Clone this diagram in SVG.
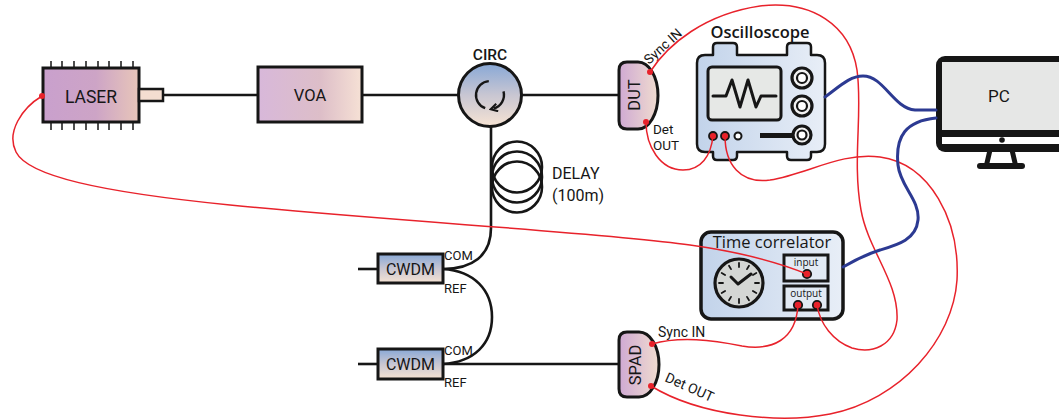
<svg xmlns="http://www.w3.org/2000/svg" width="1059" height="419" viewBox="0 0 1059 419">
  <defs>
    <linearGradient id="gPurple" x1="0" y1="0" x2="1" y2="0">
      <stop offset="0" stop-color="#c9a0cd"/>
      <stop offset="0.55" stop-color="#cda4c6"/>
      <stop offset="1" stop-color="#e8c6b9"/>
    </linearGradient>
    <linearGradient id="gPurpleLight" x1="0" y1="0" x2="1" y2="0">
      <stop offset="0" stop-color="#d8b8da"/>
      <stop offset="0.6" stop-color="#ddbec8"/>
      <stop offset="1" stop-color="#f6e1d5"/>
    </linearGradient>
    <linearGradient id="gDetector" x1="0" y1="0" x2="1" y2="0">
      <stop offset="0" stop-color="#cfa9d3"/>
      <stop offset="1" stop-color="#f0dccf"/>
    </linearGradient>
    <linearGradient id="gBluePeach" x1="0" y1="0" x2="0" y2="1">
      <stop offset="0" stop-color="#88a8d6"/>
      <stop offset="0.5" stop-color="#c8c6d2"/>
      <stop offset="1" stop-color="#f6e3d3"/>
    </linearGradient>
    <linearGradient id="gInstrument" x1="0" y1="0" x2="1" y2="0">
      <stop offset="0" stop-color="#c2d3ea"/>
      <stop offset="1" stop-color="#e8eef7"/>
    </linearGradient>
    <marker id="circArrow" viewBox="0 0 10 10" refX="5" refY="5" markerWidth="4" markerHeight="4" orient="auto">
      <path d="M1,1 L8,5 L1,9" fill="none" stroke="#161616" stroke-width="2.2" stroke-linejoin="miter"/>
    </marker>
    <style>
      .edge { stroke: #161616; stroke-width: 3; }
      .fiber { fill: none; stroke: #161616; stroke-width: 2.6; }
      .cable { fill: none; stroke: #e8222b; stroke-width: 1.5; }
      .usb { fill: none; stroke: #2c3a92; stroke-width: 3; stroke-linecap: round; }
      .pin { stroke: #161616; stroke-width: 1.5; }
      .jack { fill: #e8222b; stroke: #161616; stroke-width: 1.8; }
      .lbl { font-family: Roboto, "DejaVu Sans", sans-serif; fill: #161616; }
      .ui { font-family: "Open Sans", "DejaVu Sans", sans-serif; fill: #161616; }
    </style>
  </defs>

  <rect width="1059" height="419" fill="#ffffff"/>

  <!-- LASER -->
  <g id="laser">
    <g class="pin">
      <path d="M51,61V68M62,61V68M74,61V68M86,61V68M98,61V68M109,61V68M121,61V68M133,61V68"/>
      <path d="M51,122V130M62,122V130M74,122V130M86,122V130M98,122V130M109,122V130M121,122V130M133,122V130"/>
    </g>
    <rect x="43" y="68" width="96" height="54" fill="url(#gPurple)" class="edge"/>
    <rect x="139" y="89" width="24" height="12" fill="#f4ddd0" stroke="#161616" stroke-width="2.5"/>
    <text x="91" y="103" class="lbl" font-size="17.5" text-anchor="middle">LASER</text>
    <circle cx="42" cy="96" r="3" fill="#e8222b"/>
  </g>

  <!-- VOA -->
  <g id="voa">
    <rect x="258" y="67" width="104" height="55" fill="url(#gPurpleLight)" class="edge"/>
    <text x="310" y="101" class="lbl" font-size="16.5" text-anchor="middle">VOA</text>
  </g>

  <!-- Circulator -->
  <g id="circ">
    <circle cx="490" cy="95" r="31.5" fill="url(#gBluePeach)" class="edge"/>
    <path d="M488.8,81.1 A14,14 0 0 0 485.2,108.2" fill="none" stroke="#161616" stroke-width="2.4"/>
    <path d="M503.5,91.4 A14,14 0 0 1 493.5,108.5" fill="none" stroke="#161616" stroke-width="2.4" marker-end="url(#circArrow)"/>
    <text x="490" y="60" class="lbl" font-size="15.5" font-weight="500" text-anchor="middle">CIRC</text>
  </g>

  <!-- DUT detector -->
  <g id="dut">
    <path d="M627,62 H638 A20,33.5 0 0 1 638,129 H627 Q619,129 619,121 V70 Q619,62 627,62 Z" fill="url(#gDetector)" class="edge"/>
    <text transform="translate(640,95) rotate(-90)" class="lbl" font-size="16.5" text-anchor="middle">DUT</text>
    <circle cx="650" cy="72" r="3" fill="#e8222b"/>
    <circle cx="646" cy="122" r="3" fill="#e8222b"/>
    <text transform="translate(649,65) rotate(-42)" class="lbl" font-size="13.5">Sync IN</text>
    <text x="653" y="134" class="lbl" font-size="13.5">Det</text>
    <text x="653" y="150" class="lbl" font-size="13.5">OUT</text>
  </g>

  <!-- Oscilloscope -->
  <g id="oscilloscope">
    <text x="760" y="38" class="ui" font-size="16.5" font-weight="600" text-anchor="middle">Oscilloscope</text>
    <path d="M705,55 H713 V47 Q713,43 717,43 H733 Q737,43 737,47 V55 H787 V47 Q787,43 791,43 H807 Q811,43 811,47 V55 H817 Q825,55 825,63 V144 Q825,152 817,152 H811 V156 Q811,160 807,160 H791 Q787,160 787,156 V152 H737 V156 Q737,160 733,160 H717 Q713,160 713,156 V152 H705 Q697,152 697,144 V63 Q697,55 705,55 Z" fill="url(#gInstrument)" stroke="#161616" stroke-width="2.5" stroke-linejoin="round"/>
    <rect x="708" y="67" width="73" height="53" rx="4" fill="#e6e8e6" stroke="#161616" stroke-width="3"/>
    <path d="M713,96 H726 L732,80 L740,107 L748,80 L756,107 L761,96 H776" fill="none" stroke="#161616" stroke-width="3" stroke-linejoin="round" stroke-linecap="round"/>
    <g fill="#f2f2f2" stroke="#161616">
      <circle cx="802" cy="78" r="10" stroke-width="3.2"/>
      <circle cx="802" cy="78" r="5" stroke-width="2.2" fill="#ffffff"/>
      <circle cx="802" cy="106" r="10" stroke-width="3.2"/>
      <circle cx="802" cy="106" r="5" stroke-width="2.2" fill="#ffffff"/>
      <circle cx="802" cy="135" r="9" stroke-width="3.2"/>
      <circle cx="802" cy="135" r="4.5" stroke-width="2.2" fill="#ffffff"/>
    </g>
    <rect x="760" y="133" width="32" height="5" fill="#161616"/>
    <circle cx="713" cy="136" r="4" class="jack"/>
    <circle cx="725" cy="136" r="4" class="jack"/>
    <circle cx="738" cy="136" r="3.5" fill="#ffffff" stroke="#161616" stroke-width="2"/>
  </g>

  <!-- PC monitor -->
  <g id="pc">
    <path d="M990,150 L986.5,165 M1012,150 L1015.5,165" stroke="#161616" stroke-width="5"/>
    <rect x="977" y="163" width="48" height="6" rx="3" fill="#161616"/>
    <rect x="936" y="56" width="140" height="96" rx="9" fill="#161616"/>
    <rect x="942" y="62" width="130" height="68" fill="#e6e7e6"/>
    <rect x="942" y="137" width="130" height="7" fill="#ffffff"/>
    <circle cx="1002" cy="140" r="2.8" fill="#161616"/>
    <text x="999" y="102" class="lbl" font-size="17" text-anchor="middle">PC</text>
  </g>

  <!-- Delay coil -->
  <g id="delay">
    <ellipse cx="517" cy="167" rx="25" ry="25.5" fill="none" stroke="#161616" stroke-width="2.6"/>
    <ellipse cx="517" cy="177" rx="25" ry="25.5" fill="none" stroke="#161616" stroke-width="2.6"/>
    <ellipse cx="517" cy="187" rx="25" ry="25.5" fill="none" stroke="#161616" stroke-width="2.6"/>
    <text x="552" y="179" class="lbl" font-size="16">DELAY</text>
    <text x="552" y="201" class="lbl" font-size="16">(100m)</text>
  </g>

  <!-- CWDM filters -->
  <g id="cwdm1">
    <rect x="378" y="254" width="65" height="29" fill="url(#gBluePeach)" stroke="#161616" stroke-width="3"/>
    <text x="410.5" y="275" class="lbl" font-size="16" text-anchor="middle">CWDM</text>
    <text x="444" y="260" class="lbl" font-size="13">COM</text>
    <text x="444" y="293" class="lbl" font-size="13">REF</text>
  </g>
  <g id="cwdm2">
    <rect x="378" y="349" width="65" height="30" fill="url(#gBluePeach)" stroke="#161616" stroke-width="3"/>
    <text x="410.5" y="370" class="lbl" font-size="16" text-anchor="middle">CWDM</text>
    <text x="444" y="355" class="lbl" font-size="13">COM</text>
    <text x="444" y="387" class="lbl" font-size="13">REF</text>
  </g>

  <!-- Time correlator -->
  <g id="time-correlator">
    <rect x="701" y="232" width="142" height="87" rx="10" fill="url(#gInstrument)" stroke="#161616" stroke-width="3.5"/>
    <text x="772" y="248" class="ui" font-size="16.5" font-weight="500" text-anchor="middle">Time correlator</text>
    <circle cx="739" cy="283" r="24" fill="#d4d6d4" stroke="#161616" stroke-width="3.2"/>
    <g stroke="#161616" stroke-width="1.8" stroke-linecap="round">
      <path d="M739,263V267M739,299V303M719,283H723M755,283H759"/>
      <path d="M749,265.7L747,269.1M756.3,273L752.9,275M756.3,293L752.9,291M749,300.3L747,296.9M729,300.3L731,296.9M721.7,293L725.1,291M721.7,273L725.1,275M729,265.7L731,269.1"/>
    </g>
    <path d="M731,277 L738,284 L751,274" fill="none" stroke="#161616" stroke-width="3" stroke-linecap="round" stroke-linejoin="round"/>
    <rect x="784" y="255" width="44" height="26" fill="#e2eaf4" stroke="#161616" stroke-width="3"/>
    <text x="806" y="266" class="ui" font-size="10" text-anchor="middle">input</text>
    <rect x="784" y="286" width="44" height="24" fill="#e2eaf4" stroke="#161616" stroke-width="3"/>
    <text x="806" y="297" class="ui" font-size="10" text-anchor="middle">output</text>
    <circle cx="807" cy="274" r="4.2" class="jack"/>
    <circle cx="798" cy="305" r="4.2" class="jack"/>
    <circle cx="817" cy="305" r="4.2" class="jack"/>
  </g>

  <!-- SPAD detector -->
  <g id="spad">
    <path d="M627,332 H639 A20,32.5 0 0 1 639,397 H627 Q619,397 619,389 V340 Q619,332 627,332 Z" fill="url(#gDetector)" class="edge"/>
    <text transform="translate(641,365) rotate(-90)" class="lbl" font-size="16.5" text-anchor="middle">SPAD</text>
    <circle cx="652" cy="344" r="3" fill="#e8222b"/>
    <circle cx="651" cy="386" r="3" fill="#e8222b"/>
    <text x="658" y="337" class="lbl" font-size="14">Sync IN</text>
    <text transform="translate(664,381) rotate(24)" class="lbl" font-size="14">Det OUT</text>
  </g>

  <!-- Connectors: optical fibers, coax cables, USB links -->
  <g id="connectors">
    <path class="fiber" d="M163,95 H258"/>
    <path class="fiber" d="M362,95 H458.5"/>
    <path class="fiber" d="M521.5,95 H619"/>
    <path class="fiber" d="M491,126.5 V228 C491,256 472,269 443,269"/>
    <path class="fiber" d="M443,269 C474,271 492,290 492,317 C492,344 474,362 443,364"/>
    <path class="fiber" d="M443,364 H619"/>
    <path class="fiber" d="M358,269 H378"/>
    <path class="fiber" d="M358,364 H378"/>

    <path class="cable" d="M42,96 C22,108 6,132 16,152 C28,176 100,192 230,205 C400,222 600,232 690,245 C740,252 780,263 807,274"/>
    <path class="cable" d="M650,72 C668,44 705,14 760,6 C812,0 850,25 857,70 C863,112 852,160 861,210 C868,250 899,282 897,320 C894,346 872,354 852,348 C833,341 820,324 817,305"/>
    <path class="cable" d="M646,122 C646,146 660,170 683,170 C701,170 711,156 713,136"/>
    <path class="cable" d="M725,136 C725,164 740,184 770,180 C808,174 840,152 880,157 C930,164 960,220 957,280 C953,340 900,400 830,414 C780,424 700,416 651,386"/>
    <path class="cable" d="M652,344 C680,336 712,340 742,346 C772,351 796,340 798,305"/>

    <path class="usb" d="M825,97 C840,86 850,76 863,76 C884,76 893,108 915,110 L936,110"/>
    <path class="usb" d="M936,118 C906,121 895,136 898,165 C900,186 920,200 918,220 C916,240 897,245 880,250 C865,255 853,261 843,267"/>
  </g>
</svg>
